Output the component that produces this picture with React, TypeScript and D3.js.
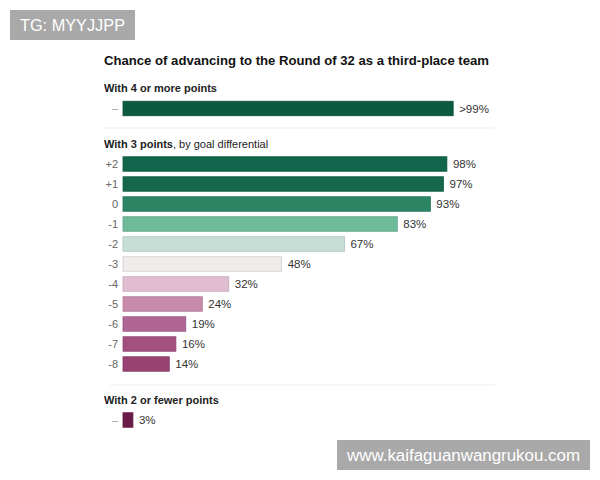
import React from 'react';
import * as d3 from 'd3';

// chart data
const topLabel = ['–'];
const topValue = [0.999];
const topText = ['>99%'];

const gdLabels = ['+2', '+1', '0', '-1', '-2', '-3', '-4', '-5', '-6', '-7', '-8'];
const gdValues = [0.98, 0.97, 0.93, 0.83, 0.67, 0.48, 0.32, 0.24, 0.19, 0.16, 0.14];
const gdColors = ['#12654a', '#16684c', '#2b8463', '#6fba99', '#c6ded6', '#efebeb',
  '#e0bdd1', '#c88aaa', '#ae6594', '#a2517f', '#974272'];

const lowLabel = ['–'];
const lowValue = [0.03];
const lowText = ['3%'];

const font = '"Liberation Sans", Arial, sans-serif';

export default function App() {
  const x = d3.scaleLinear().domain([0, 1]).range([123, 453.5]);
  const yGd = d3.scaleBand<string>().domain(gdLabels).range([154, 374]).paddingInner(0.28).paddingOuter(0.14);
  const bh = 14.5;
  const pct = d3.format('.0%');

  const row = (lab: string, v: number, txt: string, cy: number, fill: string, key: string) => (
    <g key={key}>
      <text x={118} y={cy} dy="0.35em" textAnchor="end" fontSize={11}
        fill={lab === '–' ? '#999' : '#666'}>{lab}</text>
      <rect x={x(0)} y={cy - bh / 2} width={x(v) - x(0)} height={bh} fill={fill}
        stroke={d3.color(fill)!.darker(0.35).toString()} strokeWidth={0.8} />
      <text x={x(v) + 6} y={cy} dy="0.35em" fontSize={11.5} fill="#333">{txt}</text>
    </g>
  );

  return (
    <svg width={600} height={480} style={{ position: 'absolute', left: 0, top: 0, fontFamily: font }}>
      <rect width={600} height={480} fill="#fff" />
      <rect x={10} y={10} width={125} height={30} fill="#a9a9a9" />
      <text x={20} y={31} fontSize={16} fill="#fff" textLength={105} lengthAdjust="spacingAndGlyphs">TG: MYYJJPP</text>

      <text x={104} y={65} fontSize={13} fontWeight="bold" fill="#121212" textLength={385} lengthAdjust="spacingAndGlyphs">
        Chance of advancing to the Round of 32 as a third-place team
      </text>

      <text x={104} y={92} fontSize={11} fontWeight="bold" fill="#222">With 4 or more points</text>
      {topValue.map((v, i) => row(topLabel[i], v, topText[i], 108.5, '#0c5a3f', 'top' + i))}
      <line x1={104} x2={495} y1={128} y2={128} stroke="#eee" />

      <text x={104} y={148} fontSize={11} fill="#222">
        <tspan fontWeight="bold">With 3 points</tspan>, by goal differential
      </text>
      {gdValues.map((v, i) =>
        row(gdLabels[i], v, pct(v), yGd(gdLabels[i])! + yGd.bandwidth() / 2, gdColors[i], 'gd' + i))}
      <line x1={110} x2={495} y1={385} y2={385} stroke="#eee" />

      <text x={104} y={404} fontSize={11} fontWeight="bold" fill="#222">With 2 or fewer points</text>
      {lowValue.map((v, i) => row(lowLabel[i], v, lowText[i], 420, '#6a1b48', 'low' + i))}

      <rect x={337} y={440} width={253} height={30} fill="#a9a9a9" />
      <text x={347} y={461} fontSize={16} fill="#fff" textLength={233} lengthAdjust="spacingAndGlyphs">www.kaifaguanwangrukou.com</text>
    </svg>
  );
}
